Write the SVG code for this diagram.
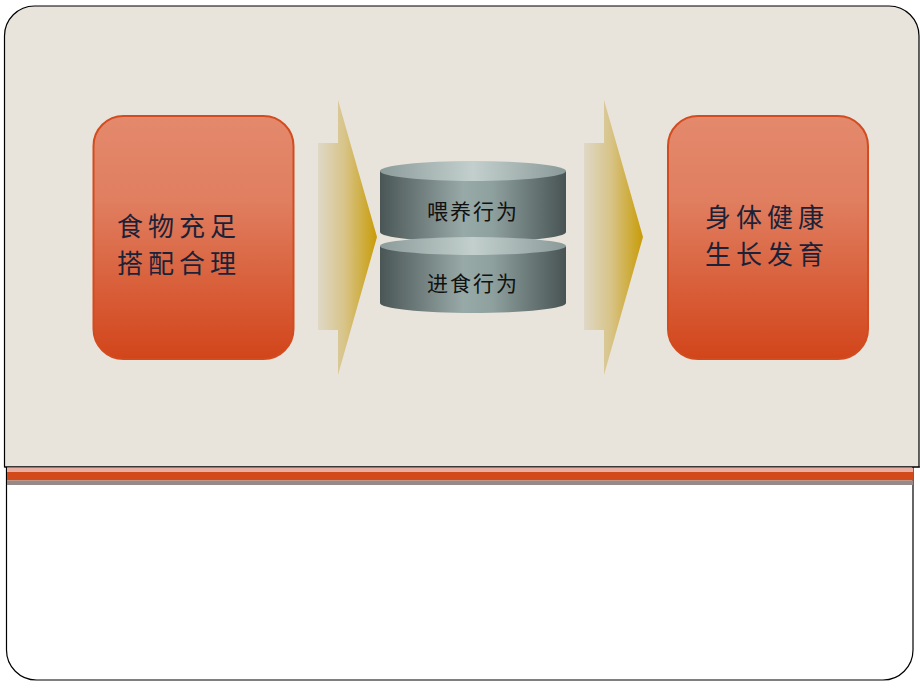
<svg xmlns="http://www.w3.org/2000/svg" width="920" height="690" viewBox="0 0 920 690">
  <defs>
    <linearGradient id="boxGrad" x1="0" y1="0" x2="0" y2="1">
      <stop offset="0" stop-color="#E4896C"/>
      <stop offset="0.35" stop-color="#E07E60"/>
      <stop offset="1" stop-color="#D2451A"/>
    </linearGradient>
    <linearGradient id="arrowGrad" x1="0" y1="0" x2="1" y2="0">
      <stop offset="0" stop-color="#DFD8C6"/>
      <stop offset="0.45" stop-color="#D8C488"/>
      <stop offset="1" stop-color="#C89C08"/>
    </linearGradient>
    <linearGradient id="sideGrad" x1="0" y1="0" x2="1" y2="0">
      <stop offset="0" stop-color="#4A5656"/>
      <stop offset="0.45" stop-color="#98AAA7"/>
      <stop offset="0.6" stop-color="#8FA19E"/>
      <stop offset="1" stop-color="#485454"/>
    </linearGradient>
    <linearGradient id="topGrad" x1="0" y1="0" x2="1" y2="0">
      <stop offset="0" stop-color="#8C9C9A"/>
      <stop offset="0.5" stop-color="#C2CFCD"/>
      <stop offset="1" stop-color="#8A9A98"/>
    </linearGradient>
    <style>
      .box { fill: url(#boxGrad); stroke: #D24C20; stroke-width: 2; }
      .boxText { font-family: "Noto Sans CJK SC", "Noto Sans", sans-serif; font-size: 26px; fill: #1B2238; letter-spacing: 5px; }
      .cylText { font-family: "Noto Sans CJK SC", "Noto Sans", sans-serif; font-size: 21px; fill: #111111; letter-spacing: 2px; text-anchor: middle; }
      .arrow { fill: url(#arrowGrad); }
      .side { fill: url(#sideGrad); }
      .top { fill: url(#topGrad); }
    </style>
  </defs>

  <g id="frame">
    <path d="M4.5,467 V36 A30,30 0 0 1 34.5,6 H889 A30,30 0 0 1 919,36 V467 Z" fill="#E8E3DB" stroke="#000000" stroke-width="1.2"/>
    <path d="M6.5,467 V650 A30,30 0 0 0 36.5,680 H883 A30,30 0 0 0 913,650 V467" fill="#FFFFFF" stroke="#000000" stroke-width="1.2"/>
    <rect x="7" y="468" width="906" height="4" fill="#E8AEA2"/>
    <rect x="7" y="472" width="906" height="8.5" fill="#D24A1C"/>
    <rect x="7" y="480.5" width="906" height="4.5" fill="#958A88"/>
    <line x1="4.5" y1="467" x2="920" y2="467" stroke="#000000" stroke-width="1.2"/>
  </g>

  <g id="node-food">
    <rect class="box" x="93.5" y="116" width="200" height="243" rx="30" ry="30"/>
    <text class="boxText" x="117" y="236">食物充足</text>
    <text class="boxText" x="117" y="273">搭配合理</text>
  </g>

  <g id="node-health">
    <rect class="box" x="668" y="116" width="200" height="243" rx="30" ry="30"/>
    <text class="boxText" x="705" y="227">身体健康</text>
    <text class="boxText" x="705" y="264">生长发育</text>
  </g>

  <g id="node-behavior">
    <path class="side" d="M380,171 V232 A93,10 0 0 0 566,232 V171 Z"/>
    <ellipse class="top" cx="473" cy="171" rx="93" ry="10"/>
    <text class="cylText" x="473" y="219">喂养行为</text>
    <path class="side" d="M380,246 V303 A93,10 0 0 0 566,303 V246 Z"/>
    <ellipse class="top" cx="473" cy="246" rx="93" ry="9"/>
    <text class="cylText" x="473" y="291">进食行为</text>
  </g>

  <g id="connectors">
    <path class="arrow" d="M318,143 H338 V100 L377,237 L338,375 V330 H318 Z"/>
    <path class="arrow" d="M584,143 H604 V100 L643,237 L604,375 V330 H584 Z"/>
  </g>
</svg>
